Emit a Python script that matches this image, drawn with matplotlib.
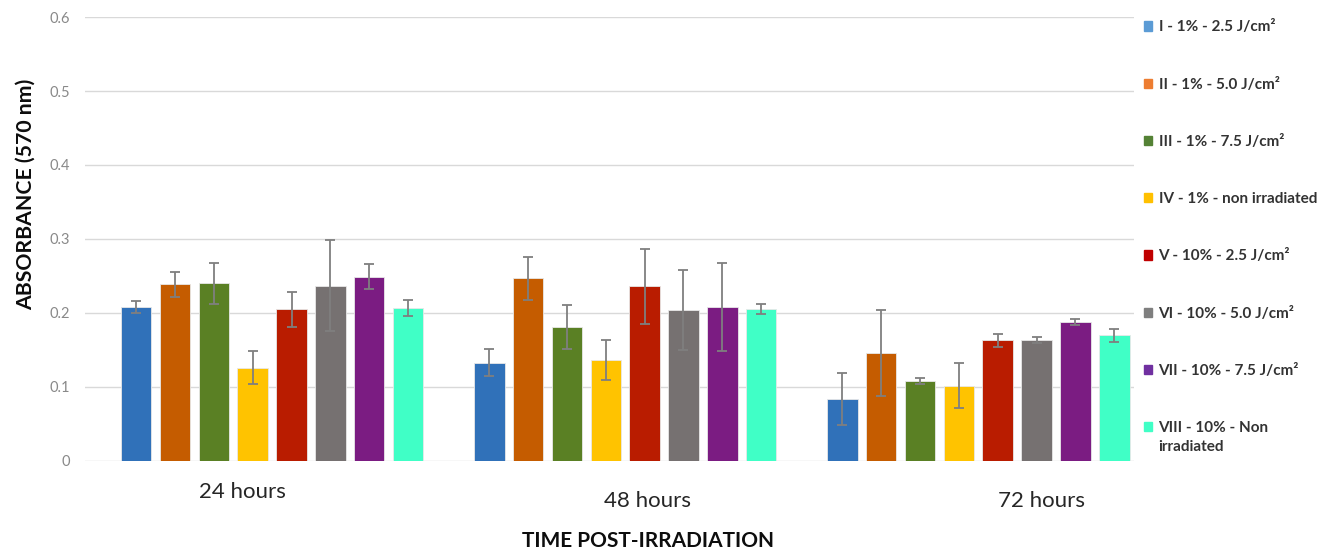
import numpy as np
import matplotlib
matplotlib.use("Agg")
import matplotlib.pyplot as plt

plt.rcParams['font.family'] = ['Lato', 'DejaVu Sans']

times = ["24 hours", "48 hours", "72 hours"]
groups = ["I - 1% - 2.5 J/cm²", "II - 1% - 5.0 J/cm²", "III - 1% - 7.5 J/cm²",
          "IV - 1% - non irradiated", "V - 10% - 2.5 J/cm²", "VI - 10% - 5.0 J/cm²",
          "VII - 10% - 7.5 J/cm²", "VIII - 10% - Non irradiated"]
colors = ["#3071B9", "#C55C00", "#5A8024", "#FFC300", "#B91C00", "#767171", "#7B1C82", "#40FFC6"]
legend_colors = ["#5B9BD5", "#ED7D31", "#548235", "#FFC000", "#C00000", "#7F7F7F", "#7030A0", "#40FFC6"]

# absorbance at 24h, 48h, 72h for each group
means = [
    [0.208, 0.133, 0.084],
    [0.239, 0.247, 0.146],
    [0.240, 0.181, 0.108],
    [0.126, 0.136, 0.102],
    [0.205, 0.236, 0.163],
    [0.237, 0.204, 0.164],
    [0.249, 0.208, 0.188],
    [0.207, 0.205, 0.170],
]
errors = [
    [0.008, 0.018, 0.035],
    [0.017, 0.029, 0.058],
    [0.028, 0.030, 0.004],
    [0.022, 0.027, 0.030],
    [0.024, 0.051, 0.009],
    [0.061, 0.054, 0.004],
    [0.017, 0.059, 0.004],
    [0.011, 0.007, 0.009],
]
yticks = [0, 0.1, 0.2, 0.3, 0.4, 0.5, 0.6]
yticklabels = ["0", "0.1", "0.2", "0.3", "0.4", "0.5", "0.6"]

fig = plt.figure(figsize=(13.36, 5.54), dpi=100)
ax = fig.add_axes([0.0636, 0.1679, 0.7855, 0.8014])

x = np.arange(len(times))
pitch = 0.110
width = 0.0864
for i, g in enumerate(groups):
    off = (i - 3.5) * pitch
    ax.bar(x + off, means[i], width, color=colors[i], edgecolor="#e8e8e8", linewidth=0.6,
           yerr=errors[i], ecolor="#7f7f7f", capsize=3.5,
           error_kw=dict(elinewidth=1.3, capthick=1.3), zorder=3, label=g)

ax.set_xlim(-0.530, 2.442)
ax.set_ylim(0, 0.6)
ax.set_yticks(yticks)
ax.set_yticklabels(yticklabels, color="#898989", fontsize=10.5)
ax.tick_params(axis="y", length=0, pad=11)
ax.set_xticks([])
ax.grid(axis="y", color="#d9d9d9", linewidth=1, zorder=0)
for s in ax.spines.values():
    s.set_visible(False)

# category labels sit a bit off the group centres in the original
label_x = [-0.085, 1.062, 2.178]
label_y = [-0.07, -0.09, -0.09]
for lx, ly, t in zip(label_x, label_y, times):
    ax.text(lx, ly, t, transform=ax.get_xaxis_transform(), ha="center", va="center",
            fontsize=16, color="#262626")

fig.text(0.485, 0.024, "TIME POST-IRRADIATION", ha="center", va="center",
         fontsize=15, fontweight="bold", color="#0d0d0d")
fig.text(0.019, 0.650, "ABSORBANCE (570 nm)", ha="center", va="center", rotation=90,
         fontsize=15.3, fontweight="bold", color="#0d0d0d")

# last legend label wraps onto a second line, with the marker on the first line
leg_labels = groups[:-1] + ["VIII - 10% - Non"]
handles = [plt.Rectangle((0, 0), 1, 1, color=c) for c in legend_colors]
leg = fig.legend(handles, leg_labels, loc="upper left", bbox_to_anchor=(0.846, 0.988),
                 frameon=False, handlelength=0.55, handleheight=0.55, handletextpad=0.4,
                 labelspacing=2.83, prop=dict(size=11, weight="bold"), labelcolor="#333333")
fig.canvas.draw()
bb = leg.get_texts()[-1].get_window_extent()
fig.text(bb.x0 / fig.bbox.width, (bb.y0 - 19) / fig.bbox.height, "irradiated",
         ha="left", va="bottom", fontsize=11, fontweight="bold", color="#333333")

fig.savefig("out.png", dpi=100)
